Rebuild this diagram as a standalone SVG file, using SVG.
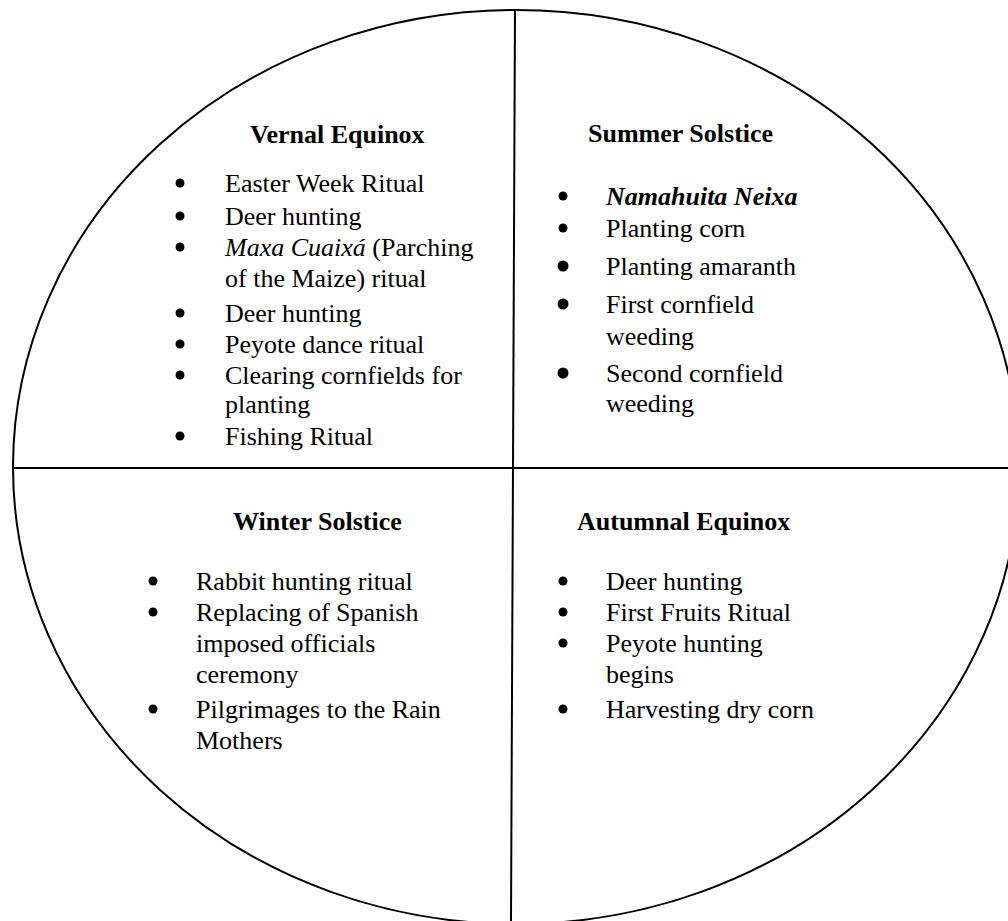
<svg xmlns="http://www.w3.org/2000/svg" width="1008" height="921" viewBox="0 0 1008 921" font-family="'Liberation Serif','Times New Roman',serif">
<style>
text{font-family:"Liberation Serif","Times New Roman",serif;font-size:26px;fill:#000}
.t{font-weight:bold}
.i{font-style:italic}
.ln{stroke:#000;stroke-width:2;fill:none}
.b{fill:#000}
</style>
<rect width="1008" height="921" fill="#fff"/>
<g id="frame">
<ellipse class="ln" cx="516" cy="467" rx="503" ry="457"/>
</g>
<g id="connectors">
<line class="ln" x1="515" y1="10" x2="511" y2="921"/>
<line class="ln" x1="13" y1="468" x2="1008" y2="468"/>
</g>
<g id="vernal">
<text class="t" x="250" y="143">Vernal Equinox</text>
<circle class="b" cx="180" cy="183" r="4.5"/><text x="225" y="192">Easter Week Ritual</text>
<circle class="b" cx="180" cy="216" r="4.5"/><text x="225" y="225">Deer hunting</text>
<circle class="b" cx="180" cy="247" r="4.5"/><text x="225" y="256"><tspan class="i">Maxa Cuaixá</tspan> (Parching</text>
<text x="225" y="287">of the Maize) ritual</text>
<circle class="b" cx="180" cy="313" r="4.5"/><text x="225" y="322">Deer hunting</text>
<circle class="b" cx="180" cy="344" r="4.5"/><text x="225" y="353">Peyote dance ritual</text>
<circle class="b" cx="180" cy="375" r="4.5"/><text x="225" y="384">Clearing cornfields for</text>
<text x="225" y="413">planting</text>
<circle class="b" cx="180" cy="436" r="4.5"/><text x="225" y="445">Fishing Ritual</text>
</g>
<g id="summer">
<text class="t" x="588" y="142">Summer Solstice</text>
<circle class="b" cx="563" cy="196" r="4.5"/><text class="t i" x="606" y="205">Namahuita Neixa</text>
<circle class="b" cx="563" cy="228" r="4.5"/><text x="606" y="237">Planting corn</text>
<circle class="b" cx="563" cy="266" r="5.5"/><text x="606" y="275">Planting amaranth</text>
<circle class="b" cx="563" cy="304" r="5.5"/><text x="606" y="313">First cornfield</text>
<text x="606" y="345">weeding</text>
<circle class="b" cx="563" cy="373" r="5.5"/><text x="606" y="382">Second cornfield</text>
<text x="606" y="412">weeding</text>
</g>
<g id="winter">
<text class="t" x="233" y="530">Winter Solstice</text>
<circle class="b" cx="153" cy="581" r="4.5"/><text x="196" y="590">Rabbit hunting ritual</text>
<circle class="b" cx="153" cy="612" r="4.5"/><text x="196" y="621">Replacing of Spanish</text>
<text x="196" y="652">imposed officials</text>
<text x="196" y="683">ceremony</text>
<circle class="b" cx="153" cy="709" r="4.5"/><text x="196" y="718">Pilgrimages to the Rain</text>
<text x="196" y="749">Mothers</text>
</g>
<g id="autumnal">
<text class="t" x="577" y="530">Autumnal Equinox</text>
<circle class="b" cx="563" cy="581" r="4.5"/><text x="606" y="590">Deer hunting</text>
<circle class="b" cx="563" cy="612" r="4.5"/><text x="606" y="621">First Fruits Ritual</text>
<circle class="b" cx="563" cy="643" r="4.5"/><text x="606" y="652">Peyote hunting</text>
<text x="606" y="683">begins</text>
<circle class="b" cx="563" cy="709" r="4.5"/><text x="606" y="718">Harvesting dry corn</text>
</g>
</svg>
